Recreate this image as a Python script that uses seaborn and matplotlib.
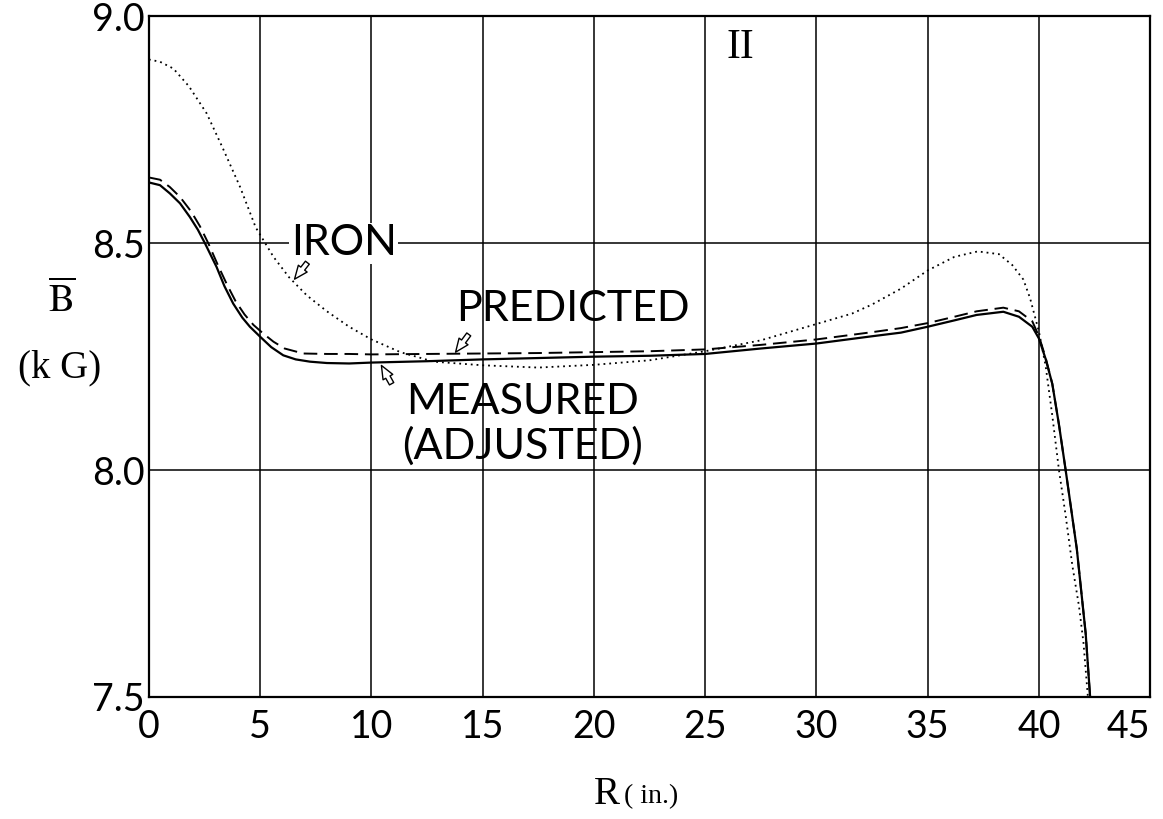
import matplotlib
matplotlib.use("Agg")
import matplotlib.pyplot as plt
import seaborn as sns

# ── data (R in inches, B-bar in kG) ────────────────────────────────
r_iron = [0, 0.5, 1.1, 1.8, 2.6, 3.3, 4.1, 4.8, 5.6, 6.3, 7.1, 8.0, 9.0, 10, 11.3,
          12.8, 15, 17.5, 20, 22.5, 25, 27.5, 30, 31.6, 32.5, 33.8, 35, 36.2,
          37.25, 38.2, 38.8, 39.3, 39.6, 40, 40.3, 40.6, 40.9, 41.2, 41.5,
          41.8, 42.0, 42.2]
b_iron = [8.905, 8.900, 8.885, 8.846, 8.786, 8.712, 8.624, 8.535, 8.470, 8.425,
          8.385, 8.350, 8.316, 8.288, 8.260, 8.239, 8.231, 8.226, 8.232, 8.242,
          8.262, 8.286, 8.322, 8.345, 8.365, 8.400, 8.440, 8.470, 8.482, 8.476,
          8.452, 8.420, 8.379, 8.305, 8.230, 8.120, 8.000, 7.900, 7.790, 7.700,
          7.620, 7.500]

r_measured = [0, 0.5, 0.94, 1.4, 1.84, 2.2, 2.52, 3.04, 3.4, 3.79, 4.2, 4.54, 5.0,
              5.5, 6.04, 6.6, 7.24, 8.0, 9.0, 10, 12.5, 15, 17.5, 20, 22.5, 25,
              27.5, 30, 32.5, 33.8, 35, 36.2, 37.2, 38.4, 39.1, 39.7, 40.0, 40.3,
              40.6, 40.9, 41.2, 41.7, 42.1, 42.3]
b_measured = [8.634, 8.628, 8.610, 8.588, 8.558, 8.530, 8.500, 8.448, 8.405, 8.367,
              8.336, 8.316, 8.294, 8.271, 8.253, 8.244, 8.239, 8.236, 8.235, 8.237,
              8.240, 8.244, 8.247, 8.250, 8.252, 8.256, 8.268, 8.279, 8.295, 8.303,
              8.316, 8.330, 8.342, 8.349, 8.338, 8.316, 8.290, 8.245, 8.190, 8.100,
              8.000, 7.827, 7.640, 7.500]

r_predicted = [0, 0.5, 0.94, 1.4, 1.9, 2.3, 2.67, 3.1, 3.5, 3.9, 4.3, 4.7, 5.14,
               5.6, 6.1, 6.94, 8.0, 9.0, 10, 12.5, 15, 17.5, 20, 22.5, 25, 27.5,
               30, 32.5, 33.8, 35, 36.2, 37.2, 38.4, 39.1, 39.7, 40.0, 40.3, 40.6,
               40.9, 41.2, 41.7, 42.1, 42.3]
b_predicted = [8.645, 8.640, 8.624, 8.602, 8.570, 8.537, 8.500, 8.452, 8.410, 8.372,
               8.343, 8.320, 8.301, 8.283, 8.268, 8.257, 8.256, 8.256, 8.255, 8.256,
               8.257, 8.258, 8.260, 8.262, 8.266, 8.276, 8.288, 8.304, 8.313, 8.324,
               8.338, 8.350, 8.358, 8.350, 8.328, 8.295, 8.248, 8.190, 8.100, 8.000,
               7.827, 7.640, 7.500]

x_ticks = [0, 5, 10, 15, 20, 25, 30, 35, 40, 45]
y_ticks = [7.5, 8.0, 8.5, 9.0]
y_tick_labels = ["7.5", "8.0", "8.5", "9.0"]

sns.set_theme(style="white")
plt.rcParams["font.family"] = ["Lato", "DejaVu Sans"]
plt.rcParams["mathtext.fontset"] = "stix"
plt.rcParams["text.color"] = "black"

fig = plt.figure(figsize=(11.63, 8.19), dpi=100)
ax = fig.add_axes([0.128, 0.149, 0.861, 0.831])

sns.lineplot(x=r_measured, y=b_measured, ax=ax, color="black", lw=1.6,
             sort=False, estimator=None, zorder=4)
sns.lineplot(x=r_predicted, y=b_predicted, ax=ax, color="black", lw=1.4,
             sort=False, estimator=None, zorder=4, linestyle=(0, (7, 3.5)))
sns.lineplot(x=r_iron, y=b_iron, ax=ax, color="black", lw=1.3,
             sort=False, estimator=None, zorder=4, linestyle=(0, (1, 2.2)))

ax.set_xlim(0, 45)
ax.set_ylim(7.5, 9.0)
ax.set_xticks(x_ticks)
ax.set_yticks(y_ticks)
ax.set_yticklabels(y_tick_labels)
ax.grid(True, color="black", lw=1.1)
ax.set_axisbelow(True)
for s in ax.spines.values():
    s.set_color("black")
    s.set_linewidth(1.6)

ax.tick_params(length=0, colors="black", labelsize=27)
ax.tick_params(axis="x", pad=9)
ax.tick_params(axis="y", pad=3)
ax.get_xticklabels()[-1].set_ha("right")
ax.set_xlabel("")
ax.set_ylabel("")

# curve labels
lbl = dict(fontsize=31, color="black", zorder=5)
ax.text(8.75, 8.5, "IRON", ha="center", va="center",
        bbox=dict(facecolor="white", edgecolor="none", pad=1), **lbl)
ax.text(19.05, 8.355, "PREDICTED", ha="center", va="center", **lbl)
ax.text(16.8, 8.15, "MEASURED", ha="center", va="center", **lbl)
ax.text(16.8, 8.053, "(ADJUSTED)", ha="center", va="center", **lbl)
ax.text(26.6, 8.93, "II", ha="center", va="center", fontsize=30,
        family="Liberation Serif", color="black")

arrow = dict(arrowstyle="simple,head_width=0.5,head_length=0.6,tail_width=0.22",
             facecolor="white", edgecolor="black", lw=1.0, mutation_scale=16)
ax.annotate("", xy=(6.47, 8.416), xytext=(7.2, 8.462), arrowprops=arrow, zorder=5)
ax.annotate("", xy=(13.71, 8.255), xytext=(14.45, 8.304), arrowprops=arrow, zorder=5)
ax.annotate("", xy=(10.39, 8.236), xytext=(10.97, 8.185), arrowprops=arrow, zorder=5)

# axis titles in serif, as on the original drawing
fig.text(62 / 1163, 1 - 300 / 819, r"$\overline{\mathrm{B}}$", ha="center",
         va="center", fontsize=28)
fig.text(60 / 1163, 1 - 368 / 819, "(k G)", ha="center", va="center",
         fontsize=28, family="Liberation Serif")
fig.text(620 / 1163, 1 - 795 / 819, "R", ha="right", va="center",
         fontsize=28, family="Liberation Serif")
fig.text(624 / 1163, 1 - 797 / 819, "( in.)", ha="left", va="center",
         fontsize=20, family="Liberation Serif")

fig.savefig("out.png", dpi=100)
